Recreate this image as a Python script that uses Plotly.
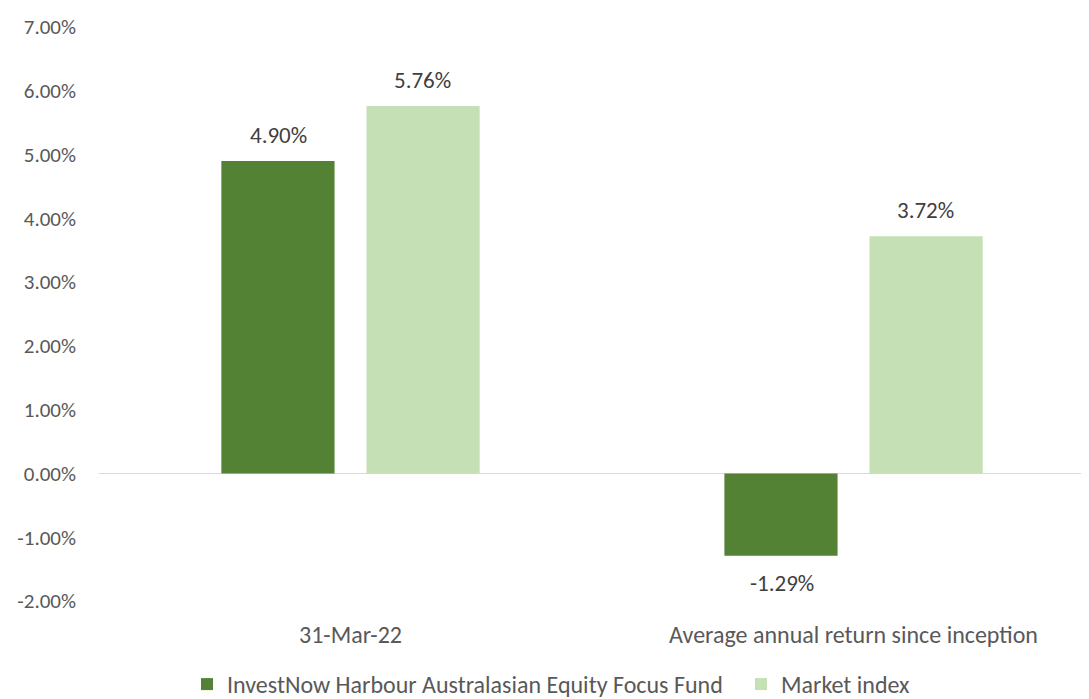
import plotly.graph_objects as go

categories = ["31-Mar-22", "Average annual return since inception"]
fund_values = [4.90, -1.29]
index_values = [5.76, 3.72]
fund_name = "InvestNow Harbour Australasian Equity Focus Fund"
index_name = "Market index"
y_ticks = [-2, -1, 0, 1, 2, 3, 4, 5, 6, 7]

FONT = "Carlito, Lato, sans-serif"
FS = 24
W, H = 1089, 699

fig = go.Figure()
fig.add_trace(go.Bar(
    name=fund_name, x=categories, y=fund_values, legend="legend",
    marker=dict(color="#548235", line=dict(width=0)),
))
fig.add_trace(go.Bar(
    name=index_name, x=categories, y=index_values, legend="legend2",
    marker=dict(color="#c5e0b4", line=dict(width=0)),
))

# data labels
for vals, xs in ((fund_values, -72), (index_values, 72)):
    for c, v in zip(categories, vals):
        fig.add_annotation(
            x=c, y=v, xref="x", yref="y", text=f"{v:.2f}%",
            showarrow=False, xshift=xs, yshift=26 if v >= 0 else -27,
            yanchor="middle", font=dict(family=FONT, size=23, color="#404040"),
        )

leg_common = dict(orientation="h", xref="container", yref="container",
                  xanchor="left", y=-0.0097, yanchor="bottom",
                  font=dict(size=FS, color="#595959"), itemwidth=30,
                  bgcolor="rgba(0,0,0,0)")
fig.update_layout(
    width=W, height=H,
    margin=dict(l=91, r=0, t=19, b=106, autoexpand=False),
    paper_bgcolor="white", plot_bgcolor="white",
    font=dict(family=FONT, size=FS, color="#595959"),
    barmode="group", bargap=0.423, bargroupgap=0.22,
    showlegend=True,
    legend=dict(x=179 / W, **leg_common),
    legend2=dict(x=733 / W, **leg_common),
)
fig.update_xaxes(
    range=[-0.5, 1.484], showgrid=False, showline=False, zeroline=False,
    ticks="", ticklabelstandoff=17, tickfont=dict(size=FS, color="#595959"),
)
fig.update_yaxes(
    range=[-2, 7], tickvals=y_ticks,
    ticktext=[f"{v:.2f}%" for v in y_ticks],
    showgrid=False, zeroline=True, zerolinecolor="#d9d9d9", zerolinewidth=1.3,
    showline=False, ticks="", ticklabelstandoff=22,
    tickfont=dict(size=21, color="#595959"),
)

fig.write_html("out.html")
